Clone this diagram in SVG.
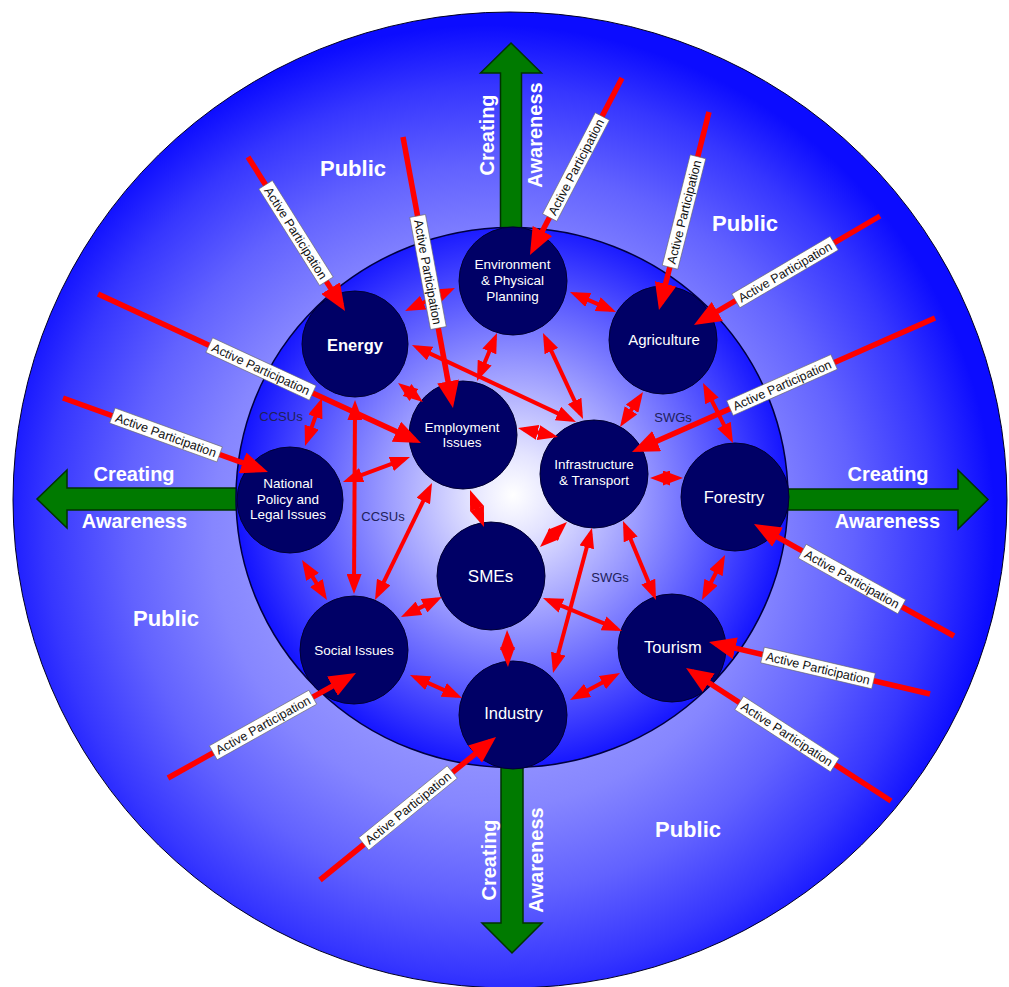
<svg xmlns="http://www.w3.org/2000/svg" width="1009" height="987" viewBox="0 0 1009 987">
<defs>
<radialGradient id="gOuter" gradientUnits="userSpaceOnUse" cx="490" cy="530" r="505">
<stop offset="0" stop-color="#c4c4ff"/>
<stop offset="0.55" stop-color="#8686ff"/>
<stop offset="0.72" stop-color="#6262ff"/>
<stop offset="0.88" stop-color="#3636ff"/>
<stop offset="1" stop-color="#0c0cff"/>
</radialGradient>
<radialGradient id="gInner" gradientUnits="userSpaceOnUse" cx="513" cy="495" r="278">
<stop offset="0" stop-color="#ffffff"/>
<stop offset="0.15" stop-color="#e4e4ff"/>
<stop offset="0.45" stop-color="#9c9cff"/>
<stop offset="0.75" stop-color="#5252ff"/>
<stop offset="1" stop-color="#1212ff"/>
</radialGradient>
<marker id="ah" markerUnits="userSpaceOnUse" markerWidth="27" markerHeight="22" viewBox="0 0 27 22" refX="20" refY="11" orient="auto">
<path d="M0,0 L27,11 L0,22 z" fill="#ff0000"/>
</marker>
<marker id="dh" markerUnits="userSpaceOnUse" markerWidth="20" markerHeight="15" viewBox="0 0 20 15" refX="14" refY="7.5" orient="auto-start-reverse">
<path d="M0,0 L20,7.5 L0,15 z" fill="#ff0000"/>
</marker>
</defs>
<style>
text{font-family:"Liberation Sans",Arial,sans-serif}
.node circle{fill:#000066;stroke:#000033;stroke-width:1}
.nt{fill:#ffffff;font-size:13.5px;text-anchor:middle}
.big{font-size:16.5px}
.ap{stroke:#ff0000;stroke-width:5.5;marker-end:url(#ah)}
.dl{stroke:#ff0000;stroke-width:4;marker-start:url(#dh);marker-end:url(#dh)}
.lbl rect{fill:#ffffff;stroke:#666666;stroke-width:0.6}
.lbl text{font-size:12.5px;fill:#111111;text-anchor:middle}
.pub{font-size:22px;font-weight:bold;fill:#ffffff;text-anchor:middle}
.ca{font-size:20px;font-weight:bold;fill:#ffffff;text-anchor:middle}
.grp{font-size:13px;fill:#20205a;text-anchor:middle}
.green{fill:#007a00;stroke:#003300;stroke-width:1.5}
</style>

<g id="background">
<ellipse cx="510" cy="500" rx="497" ry="488" fill="url(#gOuter)" stroke="#000022" stroke-width="1"/>
<polygon class="green" points="500.5,260 500.5,73 480.5,73 511,43 541.5,73 521.5,73 521.5,260"/>
<polygon class="green" points="501,740 501,923 482,923 512,953 542,923 523,923 523,740"/>
<polygon class="green" points="260,488 67,488 67,470 37,499 67,528 67,510 260,510"/>
<polygon class="green" points="760,489 958,489 958,470 988,499.5 958,529 958,510 760,510"/>
<ellipse cx="512" cy="497.5" rx="276" ry="270" fill="url(#gInner)" stroke="#000040" stroke-width="1.5"/>
</g>

<g id="outer-labels">
<text class="pub" x="353" y="176">Public</text>
<text class="pub" x="745" y="231">Public</text>
<text class="pub" x="166" y="626">Public</text>
<text class="pub" x="688" y="837">Public</text>
<text class="ca" transform="translate(494,135) rotate(-90)">Creating</text>
<text class="ca" transform="translate(542,135) rotate(-90)">Awareness</text>
<text class="ca" transform="translate(496,860) rotate(-90)">Creating</text>
<text class="ca" transform="translate(543,860) rotate(-90)">Awareness</text>
<text class="ca" x="134" y="481">Creating</text>
<text class="ca" x="134.5" y="528">Awareness</text>
<text class="ca" x="888" y="481">Creating</text>
<text class="ca" x="887.5" y="528">Awareness</text>
</g>

<g id="node-environment" class="node">
<circle cx="513" cy="281" r="54"/>
<text class="nt" x="512.5" y="269">Environment</text>
<text class="nt" x="512.5" y="285">&amp; Physical</text>
<text class="nt" x="512.5" y="301">Planning</text>
</g>
<g id="node-energy" class="node">
<circle cx="355" cy="344" r="53"/>
<text class="nt" x="355" y="351" style="font-size:16.5px;font-weight:bold">Energy</text>
</g>
<g id="node-agriculture" class="node">
<circle cx="663" cy="340" r="54"/>
<text class="nt" x="664" y="345" style="font-size:15px">Agriculture</text>
</g>
<g id="node-employment" class="node">
<circle cx="463" cy="435" r="54"/>
<text class="nt" x="462" y="432">Employment</text>
<text class="nt" x="462" y="447">Issues</text>
</g>
<g id="node-infrastructure" class="node">
<circle cx="594" cy="474" r="54"/>
<text class="nt" x="594" y="469">Infrastructure</text>
<text class="nt" x="594" y="485">&amp; Transport</text>
</g>
<g id="node-national" class="node">
<circle cx="290" cy="500" r="53"/>
<text class="nt" x="288" y="488">National</text>
<text class="nt" x="288" y="504">Policy and</text>
<text class="nt" x="288" y="519">Legal Issues</text>
</g>
<g id="node-forestry" class="node">
<circle cx="735" cy="497" r="54"/>
<text class="nt big" x="734" y="503">Forestry</text>
</g>
<g id="node-smes" class="node">
<circle cx="491" cy="576" r="54"/>
<text class="nt" x="490.5" y="582" style="font-size:17px">SMEs</text>
</g>
<g id="node-social" class="node">
<circle cx="354" cy="650" r="54"/>
<text class="nt" x="354" y="655">Social Issues</text>
</g>
<g id="node-industry" class="node">
<circle cx="513" cy="715" r="54"/>
<text class="nt big" x="513.5" y="719">Industry</text>
</g>
<g id="node-tourism" class="node">
<circle cx="672" cy="648" r="54"/>
<text class="nt big" x="673" y="653">Tourism</text>
</g>

<g id="connectors">
<line class="dl" x1="410.5" y1="308.5" x2="449.5" y2="290.5"/>
<line class="dl" x1="575.5" y1="294.4" x2="610.5" y2="309.6"/>
<line class="dl" x1="494.7" y1="338.5" x2="479.3" y2="375.5"/>
<line class="dl" x1="545.5" y1="338.4" x2="580.5" y2="413.6"/>
<line class="dl" x1="417.4" y1="347.6" x2="570.6" y2="419.4"/>
<line class="dl" x1="402.8" y1="386.6" x2="418.2" y2="398.4"/>
<line class="dl" x1="320" y1="403.7" x2="307" y2="440.3"/>
<line class="dl" x1="355" y1="406" x2="354" y2="588"/>
<line class="dl" x1="404.4" y1="459.1" x2="348.6" y2="479.9"/>
<line class="dl" x1="523.9" y1="429.3" x2="552.1" y2="435.7"/>
<line class="dl" x1="472.1" y1="495.6" x2="481.9" y2="521.4"/>
<line class="dl" x1="429.4" y1="488.4" x2="377.6" y2="594.6"/>
<line class="dl" x1="562.6" y1="526.1" x2="544.4" y2="542.9"/>
<line class="dl" x1="639.7" y1="397" x2="623.3" y2="422"/>
<line class="dl" x1="705.7" y1="388.4" x2="730.3" y2="437.6"/>
<line class="dl" x1="656" y1="478" x2="677" y2="478"/>
<line class="dl" x1="625.3" y1="526.5" x2="653.7" y2="594.5"/>
<line class="dl" x1="722.3" y1="560.3" x2="704.7" y2="594.7"/>
<line class="dl" x1="590.4" y1="533.8" x2="554.6" y2="667.2"/>
<line class="dl" x1="548.5" y1="600.3" x2="616.5" y2="628.7"/>
<line class="dl" x1="436.6" y1="599.6" x2="406.4" y2="614.4"/>
<line class="dl" x1="507.2" y1="636" x2="507.8" y2="661"/>
<line class="dl" x1="415.5" y1="677.4" x2="456.5" y2="695.6"/>
<line class="dl" x1="575.3" y1="697.1" x2="614.7" y2="675.9"/>
<line class="dl" x1="305.2" y1="565.1" x2="323.8" y2="594.9"/>

<line class="ap" x1="248" y1="157" x2="341.3" y2="305.1"/>
<line class="ap" x1="403" y1="137" x2="451.7" y2="401.1"/>
<line class="ap" x1="622" y1="78" x2="533.2" y2="248.8"/>
<line class="ap" x1="709" y1="112" x2="660.7" y2="303.2"/>
<line class="ap" x1="880" y1="216" x2="700" y2="321.5"/>
<line class="ap" x1="935" y1="318" x2="638.4" y2="449.2"/>
<line class="ap" x1="954" y1="636" x2="760.1" y2="527.4"/>
<line class="ap" x1="930" y1="694" x2="715.8" y2="643.6"/>
<line class="ap" x1="891" y1="801" x2="691.9" y2="671.8"/>
<line class="ap" x1="320" y1="880" x2="490.6" y2="741.4"/>
<line class="ap" x1="168" y1="778" x2="349.9" y2="676.4"/>
<line class="ap" x1="63" y1="398" x2="261.4" y2="469.6"/>
<line class="ap" x1="98" y1="294" x2="414.6" y2="440.1"/>

<g class="lbl" transform="translate(296,233) rotate(57.8)"><rect x="-57" y="-8" width="114" height="16"/><text y="4.5">Active Participation</text></g>
<g class="lbl" transform="translate(428,272) rotate(79.5)"><rect x="-57" y="-8" width="114" height="16"/><text y="4.5">Active Participation</text></g>
<g class="lbl" transform="translate(576,167) rotate(-62.5)"><rect x="-57" y="-8" width="114" height="16"/><text y="4.5">Active Participation</text></g>
<g class="lbl" transform="translate(684,212) rotate(-75.8)"><rect x="-57" y="-8" width="114" height="16"/><text y="4.5">Active Participation</text></g>
<g class="lbl" transform="translate(785,272) rotate(-30.4)"><rect x="-57" y="-8" width="114" height="16"/><text y="4.5">Active Participation</text></g>
<g class="lbl" transform="translate(782,385) rotate(-23.9)"><rect x="-57" y="-8" width="114" height="16"/><text y="4.5">Active Participation</text></g>
<g class="lbl" transform="translate(852,579) rotate(29.2)"><rect x="-57" y="-8" width="114" height="16"/><text y="4.5">Active Participation</text></g>
<g class="lbl" transform="translate(818,668) rotate(13.2)"><rect x="-57" y="-8" width="114" height="16"/><text y="4.5">Active Participation</text></g>
<g class="lbl" transform="translate(787,734) rotate(33)"><rect x="-57" y="-8" width="114" height="16"/><text y="4.5">Active Participation</text></g>
<g class="lbl" transform="translate(408,808) rotate(-39.1)"><rect x="-57" y="-8" width="114" height="16"/><text y="4.5">Active Participation</text></g>
<g class="lbl" transform="translate(263,725) rotate(-29.2)"><rect x="-57" y="-8" width="114" height="16"/><text y="4.5">Active Participation</text></g>
<g class="lbl" transform="translate(166,435) rotate(19.9)"><rect x="-57" y="-8" width="114" height="16"/><text y="4.5">Active Participation</text></g>
<g class="lbl" transform="translate(261,369) rotate(24.8)"><rect x="-57" y="-8" width="114" height="16"/><text y="4.5">Active Participation</text></g>
</g>

<g id="group-labels">
<text class="grp" x="281" y="421">CCSUs</text>
<text class="grp" x="383" y="521">CCSUs</text>
<text class="grp" x="673" y="422">SWGs</text>
<text class="grp" x="610" y="582">SWGs</text>
</g>
</svg>
